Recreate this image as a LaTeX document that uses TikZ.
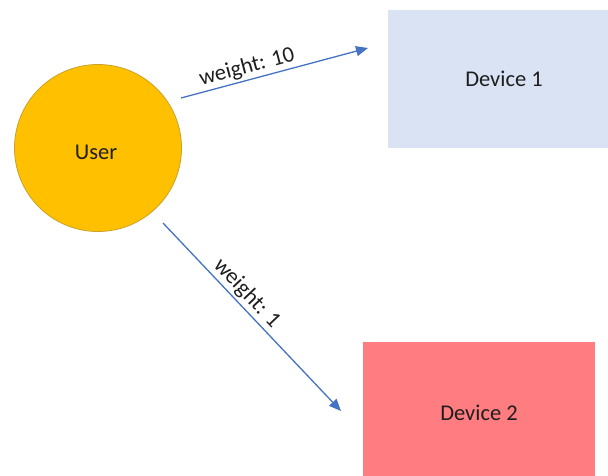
\documentclass[tikz,border=0pt]{standalone}
\usepackage{fontspec}
\setmainfont{Carlito}
\usetikzlibrary{arrows.meta}
\definecolor{usergold}{HTML}{FFC000}
\definecolor{userrim}{HTML}{C9A227}
\definecolor{devblue}{HTML}{DAE3F3}
\definecolor{devred}{HTML}{FF7C80}
\definecolor{linkblue}{HTML}{4472C4}
\definecolor{inktext}{HTML}{1E1E1E}
\begin{document}
\begin{tikzpicture}[x=1pt,y=-1pt,
  every node/.style={font=\fontsize{22.5}{27}\selectfont, text=inktext},
  person/.style={circle, fill=usergold, draw=userrim, line width=0.8pt, minimum size=167pt, inner sep=0pt},
  device/.style={rectangle, inner sep=0pt},
  link/.style={draw=linkblue, line width=1.3pt, -{Triangle[length=12pt,width=10pt]}},
  weightlabel/.style={sloped, above, inner sep=2pt}
]
\useasboundingbox (0,0) rectangle (608,475);
\begin{scope}
\clip (0,0) rectangle (608,475);
% devices
\node[device, fill=devblue, minimum width=232pt, minimum height=138pt] (dev1) at (504,79) {Device 1};
\node[device, fill=devred, minimum width=232pt, minimum height=142pt] (dev2) at (479,413) {Device 2};
\end{scope}
% user
\node[person] (user) at (98,148) {};
\node at (96,152) (userlabel) {User};
% link end points
\coordinate (l1s) at (181,98);
\coordinate (l1e) at (368,48);
\coordinate (l2s) at (163,223);
\coordinate (l2e) at (341,411);
\draw[link] (l1s) -- node[weightlabel, pos=0.37] (w1) {weight: 10} (l1e);
\draw[link] (l2s) -- node[weightlabel, pos=0.42] (w2) {weight: 1} (l2e);
\end{tikzpicture}
\end{document}
